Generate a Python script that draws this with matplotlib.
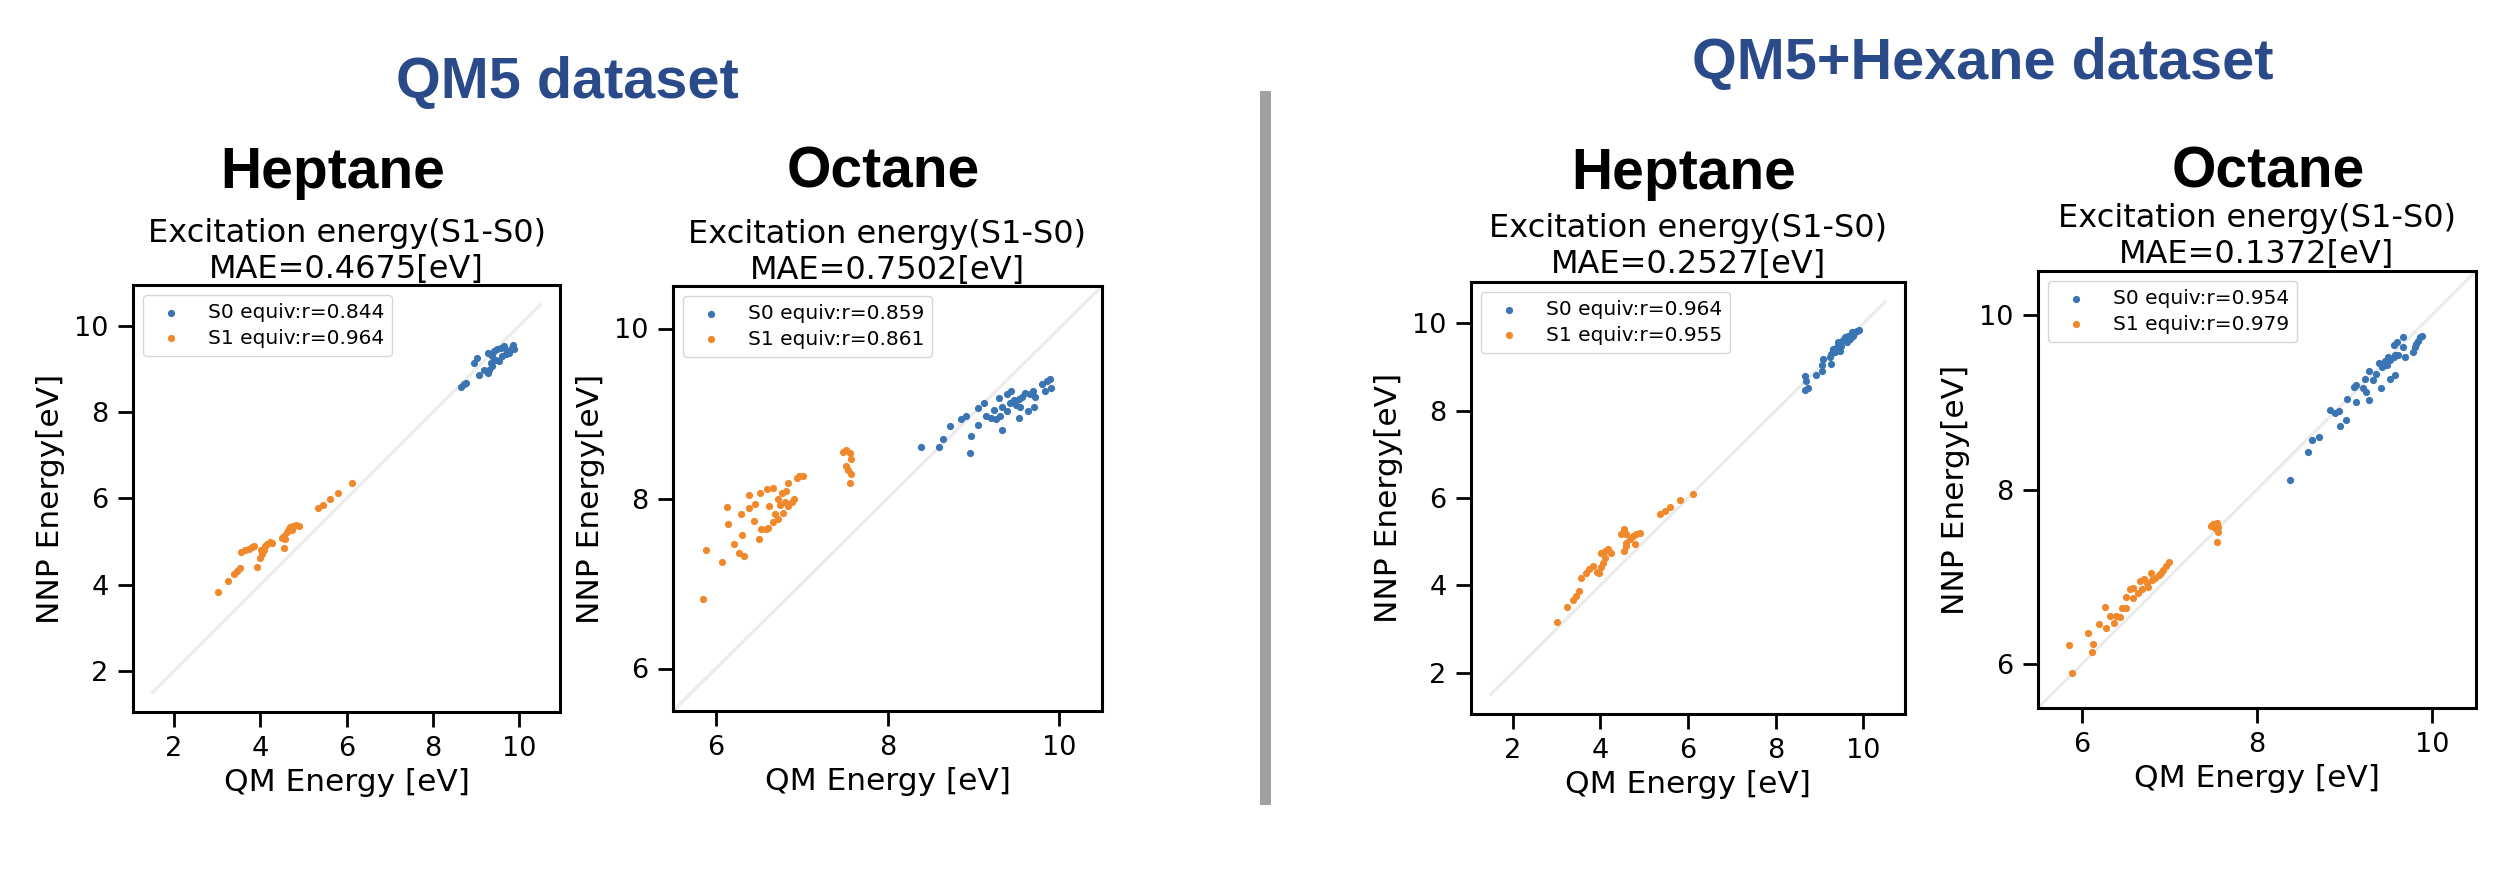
import matplotlib
matplotlib.use("Agg")
import matplotlib.pyplot as plt
from matplotlib.patches import Rectangle

# ---- data (QM energy, NNP energy) ----
# QM5 dataset / Heptane
qm5_hep_s0_qm = [8.66, 8.72, 8.78, 8.96, 9.03, 9.07, 9.27, 9.27, 9.31, 9.34, 9.38, 9.42, 9.46,
                 9.50, 9.54, 9.58, 9.61, 9.65, 9.69, 9.73, 9.77, 9.81, 9.86, 9.88, 9.19, 9.38]
qm5_hep_s0_nnp = [8.59, 8.66, 8.68, 9.15, 9.26, 8.87, 9.38, 8.91, 8.99, 9.15, 9.30, 9.42, 9.22,
                  9.47, 9.18, 9.50, 9.30, 9.53, 9.34, 9.42, 9.38, 9.46, 9.55, 9.46, 8.99, 9.07]
qm5_hep_s1_qm = [3.03, 3.25, 3.40, 3.47, 3.53, 3.56, 3.65, 3.73, 3.80, 3.86, 3.93, 4.00, 4.04,
                 4.08, 4.11, 4.15, 4.22, 4.27, 4.02, 4.50, 4.54, 4.58, 4.56, 4.62, 4.66, 4.70,
                 4.76, 4.84, 4.91, 4.73, 5.35, 5.45, 5.61, 5.81, 6.13]
qm5_hep_s1_nnp = [3.83, 4.08, 4.24, 4.31, 4.39, 4.77, 4.80, 4.84, 4.87, 4.89, 4.41, 4.62, 4.72,
                  4.81, 4.89, 4.95, 4.99, 4.97, 4.80, 5.09, 5.12, 5.07, 4.86, 5.22, 5.30, 5.34,
                  5.36, 5.38, 5.36, 5.28, 5.79, 5.84, 5.98, 6.12, 6.37]

# QM5 dataset / Octane
qm5_oct_s0_qm = [8.39, 8.60, 8.65, 8.73, 8.86, 8.91, 8.97, 8.96, 9.05, 9.05, 9.13, 9.15, 9.21,
                 9.24, 9.27, 9.30, 9.31, 9.34, 9.34, 9.39, 9.39, 9.44, 9.43, 9.47, 9.50, 9.53,
                 9.53, 9.55, 9.57, 9.60, 9.64, 9.66, 9.70, 9.71, 9.72, 9.80, 9.84, 9.86, 9.89,
                 9.90, 9.48]
qm5_oct_s0_nnp = [8.61, 8.61, 8.70, 8.85, 8.94, 8.97, 8.74, 8.53, 8.86, 9.06, 9.12, 8.97, 8.95,
                  9.04, 8.93, 9.18, 8.97, 8.81, 9.08, 9.03, 9.23, 9.26, 9.12, 9.16, 9.10, 8.95,
                  9.17, 9.08, 9.20, 9.24, 9.03, 9.23, 9.27, 9.08, 9.19, 9.35, 9.26, 9.38, 9.41,
                  9.30, 9.13]
qm5_oct_s1_qm = [5.85, 5.89, 6.07, 6.13, 6.14, 6.21, 6.27, 6.33, 6.29, 6.31, 6.38, 6.39, 6.44,
                 6.46, 6.50, 6.51, 6.53, 6.58, 6.60, 6.61, 6.62, 6.66, 6.67, 6.69, 6.72, 6.72,
                 6.75, 6.77, 6.78, 6.80, 6.82, 6.84, 6.84, 6.89, 6.91, 6.94, 6.97, 7.01, 7.48,
                 7.52, 7.56, 7.57, 7.52, 7.54, 7.57, 7.56]
qm5_oct_s1_nnp = [6.82, 7.40, 7.25, 7.90, 7.70, 7.46, 7.36, 7.32, 7.82, 7.57, 8.04, 7.89, 7.73,
                  7.93, 7.52, 8.07, 7.64, 7.64, 8.11, 7.65, 7.91, 8.12, 7.72, 7.82, 7.76, 8.00,
                  7.92, 8.06, 7.83, 7.96, 8.09, 8.18, 7.91, 7.96, 7.99, 8.24, 8.26, 8.27, 8.55,
                  8.57, 8.54, 8.46, 8.38, 8.33, 8.29, 8.18]

# QM5+Hexane dataset / Heptane
hex_hep_s0_qm = [8.67, 8.70, 8.67, 8.74, 8.93, 9.05, 9.05, 9.09, 9.27, 9.27, 9.31, 9.39, 9.43,
                 9.47, 9.50, 9.54, 9.58, 9.62, 9.66, 9.70, 9.73, 9.77, 9.81, 9.85, 9.91, 9.35,
                 9.45, 9.24]
hex_hep_s0_nnp = [8.79, 8.69, 8.47, 8.53, 8.81, 8.92, 9.04, 9.19, 9.07, 9.30, 9.42, 9.45, 9.57,
                  9.38, 9.49, 9.61, 9.68, 9.57, 9.72, 9.64, 9.80, 9.72, 9.80, 9.83, 9.85, 9.34,
                  9.45, 9.23]
hex_hep_s1_qm = [3.02, 3.24, 3.37, 3.45, 3.52, 3.56, 3.68, 3.75, 3.83, 3.92, 3.98, 4.02, 4.07,
                 4.02, 4.10, 4.17, 4.25, 4.10, 4.48, 4.55, 4.59, 4.55, 4.59, 4.67, 4.74, 4.78,
                 4.82, 4.90, 4.59, 5.35, 5.47, 5.60, 5.81, 6.11]
hex_hep_s1_nnp = [3.15, 3.50, 3.67, 3.76, 3.87, 4.16, 4.29, 4.37, 4.44, 4.31, 4.29, 4.41, 4.52,
                  4.75, 4.79, 4.82, 4.73, 4.63, 5.17, 5.28, 5.17, 4.79, 4.98, 5.05, 5.13, 4.94,
                  5.18, 5.20, 4.90, 5.64, 5.70, 5.80, 5.95, 6.09]

# QM5+Hexane dataset / Octane
hex_oct_s0_qm = [8.38, 8.58, 8.63, 8.71, 8.83, 8.89, 8.94, 8.95, 9.02, 9.03, 9.13, 9.11, 9.13,
                 9.21, 9.24, 9.23, 9.28, 9.28, 9.32, 9.36, 9.39, 9.42, 9.43, 9.46, 9.48, 9.49,
                 9.52, 9.52, 9.56, 9.58, 9.58, 9.61, 9.56, 9.60, 9.67, 9.67, 9.69, 9.78, 9.80,
                 9.82, 9.84, 9.86, 9.88]
hex_oct_s0_nnp = [8.11, 8.43, 8.57, 8.60, 8.91, 8.87, 8.90, 8.73, 8.79, 9.03, 9.00, 9.17, 9.19,
                  9.16, 9.11, 9.27, 9.36, 9.02, 9.25, 9.32, 9.45, 9.16, 9.40, 9.47, 9.42, 9.52,
                  9.27, 9.48, 9.52, 9.31, 9.54, 9.54, 9.65, 9.69, 9.75, 9.63, 9.52, 9.57, 9.63,
                  9.67, 9.70, 9.75, 9.76]
hex_oct_s1_qm = [5.85, 5.89, 6.07, 6.12, 6.13, 6.20, 6.27, 6.28, 6.32, 6.37, 6.39, 6.44, 6.46,
                 6.50, 6.50, 6.55, 6.59, 6.59, 6.64, 6.67, 6.71, 6.69, 6.74, 6.76, 6.79, 6.80,
                 6.84, 6.88, 6.90, 6.93, 6.96, 7.00, 7.48, 7.50, 7.54, 7.55, 7.56, 7.54, 7.52]
hex_oct_s1_nnp = [6.22, 5.90, 6.36, 6.14, 6.23, 6.46, 6.66, 6.42, 6.55, 6.47, 6.55, 6.54, 6.64,
                  6.64, 6.77, 6.86, 6.87, 6.76, 6.82, 6.95, 6.98, 6.86, 6.93, 6.89, 7.05, 6.97,
                  6.99, 7.02, 7.05, 7.08, 7.13, 7.17, 7.58, 7.60, 7.62, 7.57, 7.51, 7.40, 7.56]

molecules = ["Heptane", "Octane", "Heptane", "Octane"]
mae_values = ["0.4675", "0.7502", "0.2527", "0.1372"]
r_s0 = ["0.844", "0.859", "0.964", "0.954"]
r_s1 = ["0.964", "0.861", "0.955", "0.979"]
s0_qm = [qm5_hep_s0_qm, qm5_oct_s0_qm, hex_hep_s0_qm, hex_oct_s0_qm]
s0_nnp = [qm5_hep_s0_nnp, qm5_oct_s0_nnp, hex_hep_s0_nnp, hex_oct_s0_nnp]
s1_qm = [qm5_hep_s1_qm, qm5_oct_s1_qm, hex_hep_s1_qm, hex_oct_s1_qm]
s1_nnp = [qm5_hep_s1_nnp, qm5_oct_s1_nnp, hex_hep_s1_nnp, hex_oct_s1_nnp]
datasets = ["QM5 dataset", "QM5+Hexane dataset"]

# ---- layout (pixel boxes of the reference) ----
W, H = 2504, 886
fig = plt.figure(figsize=(W / 100, H / 100), dpi=100)

boxes = [(133, 285, 560, 712), (673, 286, 1102, 711),
         (1471, 282, 1905, 714), (2038, 271, 2476, 708)]
title_pads = [4.5, 5, 6.5, 6]
big_title_pos = [(333, 188), (883, 187), (1684, 189), (2268, 187)]
limits = [(1.05, 10.95), (5.5, 10.5), (1.05, 10.95), (5.5, 10.5)]
diag = [(1.5, 10.5), (5.5, 10.5), (1.5, 10.5), (5.5, 10.5)]
ticks = [[2, 4, 6, 8, 10], [6, 8, 10], [2, 4, 6, 8, 10], [6, 8, 10]]

blue = "#3a74b2"
orange = "#f0882c"

for i in range(4):
    l, t, r, b = boxes[i]
    ax = fig.add_axes([l / W, 1 - b / H, (r - l) / W, (b - t) / H])
    ax.plot(diag[i], diag[i], color="#ebebeb", lw=2.2, zorder=1)
    ax.scatter(s0_qm[i], s0_nnp[i], s=27, color=blue, linewidths=0, zorder=2,
               label="S0 equiv:r=" + r_s0[i])
    ax.scatter(s1_qm[i], s1_nnp[i], s=27, color=orange, linewidths=0, zorder=2,
               label="S1 equiv:r=" + r_s1[i])
    ax.set_xlim(limits[i])
    ax.set_ylim(limits[i])
    ax.set_xticks(ticks[i])
    ax.set_yticks(ticks[i])
    ax.tick_params(direction="out", length=10.5, width=2.0, pad=7, labelsize=19.5)
    for sp in ax.spines.values():
        sp.set_linewidth(2.2)
    ax.set_xlabel("QM Energy [eV]", fontsize=22.5, labelpad=4)
    ax.set_ylabel("NNP Energy[eV]", fontsize=22.5, labelpad=7)
    ax.set_title("Excitation energy(S1-S0)\nMAE=" + mae_values[i] + "[eV]",
                 fontsize=23, pad=title_pads[i])
    ax.legend(loc="upper left", fontsize=14.5, labelspacing=0.33, scatterpoints=1)

    cx, cy = big_title_pos[i]
    fig.text(cx / W, 1 - cy / H, molecules[i], ha="center", va="baseline",
             fontsize=41, fontweight="bold", family="Liberation Sans")

# dataset headers
fig.text(396 / W, 1 - 98 / H, datasets[0], ha="left", va="baseline", fontsize=41.5,
         fontweight="bold", color="#2b4a8a", family="Liberation Sans")
fig.text(1692 / W, 1 - 79 / H, datasets[1], ha="left", va="baseline", fontsize=41.5,
         fontweight="bold", color="#2b4a8a", family="Liberation Sans")

# separator bar
fig.add_artist(Rectangle((1260 / W, 1 - 805 / H), 11 / W, (805 - 91) / H,
                         transform=fig.transFigure, color="#a0a0a0", lw=0))

fig.savefig("out.png", dpi=100)
